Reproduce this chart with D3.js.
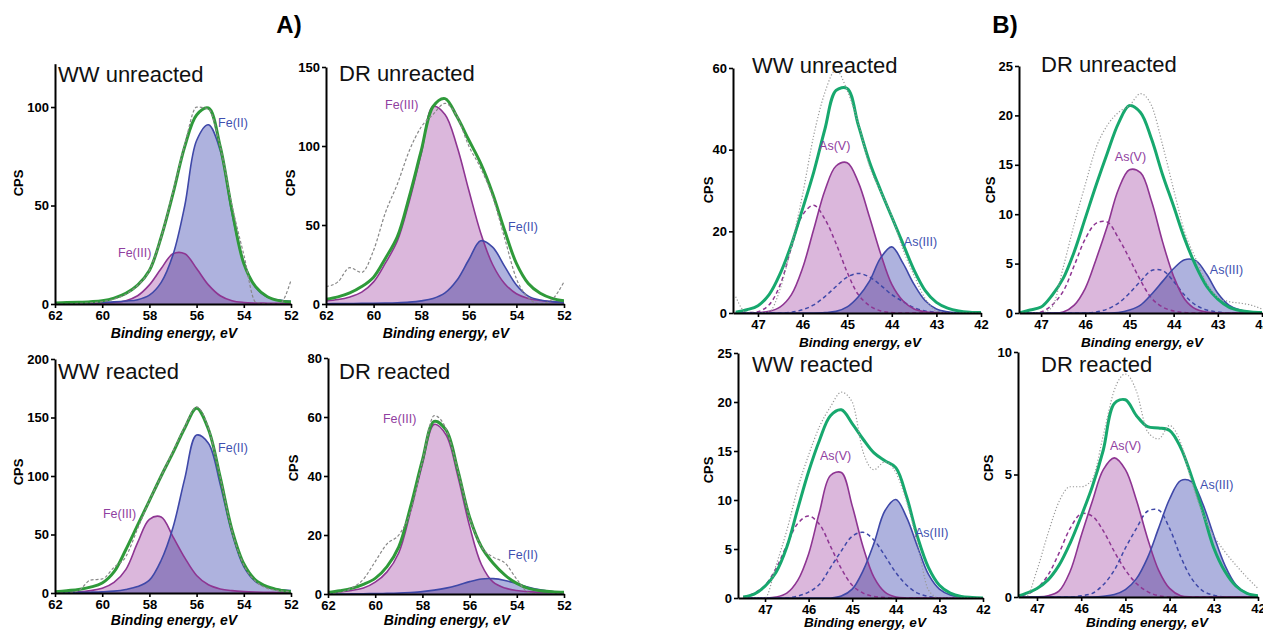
<!DOCTYPE html>
<html>
<head>
<meta charset="utf-8">
<script src="https://cdn.jsdelivr.net/npm/d3@7"></script>
<style>
  body { margin: 0; background: #fff; }
  svg { font-family: "Liberation Sans", Arial, sans-serif; }
</style>
</head>
<body>
<svg id="fig" width="1263" height="633"></svg>
<script>
// binding energy grids (eV) the curves were read on
const feGrid = [62, 61.5, 61, 60.5, 60, 59.5, 59, 58.5, 58, 57.5, 57, 56.5, 56, 55.5, 55, 54.5, 54, 53.5, 53, 52.5, 52];
const asGrid = [47.5, 47.25, 47, 46.75, 46.5, 46.25, 46, 45.75, 45.5, 45.25, 45, 44.75, 44.5, 44.25, 44, 43.75, 43.5, 43.25, 43, 42.75, 42.5, 42.25, 42];

const feTicks = [62, 60, 58, 56, 54, 52];
const asTicks = [47, 46, 45, 44, 43, 42];

// A) Fe 3p, WW unreacted
const wwUnFe2   = [0.4, 0.5, 0.6, 0.7, 0.9, 1.1, 1.5, 2.2, 4.5, 11, 25, 50, 83, 91, 78, 46, 21, 8.5, 3.5, 2, 1.4];
const wwUnFe3   = [0.2, 0.2, 0.25, 0.3, 0.5, 0.8, 1.7, 4.2, 9.7, 18, 25.5, 25.5, 18, 9.7, 4.2, 1.7, 0.8, 0.5, 0.4, 0.3, 0.25];
const wwUnFeFit = [0.5, 0.7, 0.9, 1.2, 1.7, 3, 5.4, 9.6, 17, 34, 56, 80, 96, 99.5, 80, 47.7, 20.6, 8.8, 3.7, 1.7, 1];
const wwUnFeRaw = [0, 0, 0.3, 0.6, 1.2, 2.5, 5, 9.5, 17, 34, 57, 81, 100, 99, 80, 50, 25, 1, 0, 0, 12];

// DR unreacted
const drUnFe2   = [0.2, 0.3, 0.3, 0.4, 0.5, 0.6, 0.8, 1.2, 2, 3.5, 7, 15, 28, 40, 36, 24, 12, 5, 2.5, 1.5, 1];
const drUnFe3   = [2, 2.8, 4.5, 7.5, 14, 26, 40, 65, 95, 125, 120, 100, 72, 45, 25, 13, 6.5, 3.5, 2.2, 1.5, 1];
const drUnFeFit = [3, 4.5, 7, 11, 17, 29, 42.6, 68, 97, 125, 130, 118.6, 103.8, 89, 70, 46.8, 25.7, 13, 6.8, 3.6, 2];
const drUnFeRaw = [11, 14, 23, 20, 34, 58, 76, 97, 112, 120, 127, 119, 100, 86, 68, 42, 16, 4, 0, 3, 14];

// WW reacted
const wwReFe2   = [0.3, 0.4, 0.5, 0.7, 1, 1.6, 3, 5.5, 11, 28, 56, 98, 135, 128, 93, 51, 22.5, 9.7, 5, 3, 2];
const wwReFe3   = [0.5, 0.7, 1, 2, 4, 9, 20, 43, 63, 65, 48, 30, 15, 7, 3.5, 2, 1.2, 0.8, 0.6, 0.4, 0.3];
const wwReFeFit = [1, 2, 3, 5, 8.5, 18, 37, 58, 79, 100, 120, 141, 158, 140, 99, 54, 25, 11, 5.4, 2.6, 1.1];
const wwReFeRaw = [0, 0, 2, 11, 12, 22, 31, 55, 79, 100, 121, 142, 159, 141, 99, 53, 24, 10, 4, 2, 1];

// DR reacted
const drReFe2   = [0, 0, 0.05, 0.1, 0.15, 0.2, 0.3, 0.5, 0.8, 1.3, 2, 3, 4.2, 5.1, 5.2, 4.6, 3.5, 2.3, 1.4, 0.8, 0.5];
const drReFe3   = [0.4, 0.7, 1.2, 2, 4, 7.5, 14, 28, 44, 57.5, 54, 40, 23, 10, 4, 2, 1.2, 0.8, 0.5, 0.4, 0.3];
const drReFeFit = [0.5, 1.1, 1.9, 3.3, 5.3, 9.3, 16, 29.6, 45.4, 58.5, 55.6, 42, 26, 16, 10.4, 6.4, 3.6, 1.9, 1.1, 0.8, 0.6];
const drReFeRaw = [0, 0.5, 2, 5, 11, 17, 20, 28, 45, 60.5, 56, 42, 26, 16, 12.5, 10.5, 5, 0.5, 0, 0, 0];

// B) As 3d, WW unreacted
const wwUnAsV    = [0, 0, 0.1, 0.4, 1.5, 4.5, 11, 20.5, 30, 36, 36.8, 32, 23.5, 14.5, 7, 3, 1, 0.3, 0.1, 0, 0, 0, 0];
const wwUnAsVd   = [0, 0.1, 0.3, 2, 7, 16, 24, 26.4, 23, 17, 10, 4.5, 1.8, 0.5, 0.1, 0, 0, 0, 0, 0, 0, 0, 0];
const wwUnAsIII  = [0, 0, 0, 0, 0, 0, 0, 0, 0.1, 0.4, 1.5, 4, 7.8, 13.5, 16.2, 12.2, 7, 3, 1, 0.3, 0.1, 0, 0];
const wwUnAsIIId = [0, 0, 0, 0, 0, 0.2, 0.8, 2, 4, 6.5, 8.8, 9.7, 8.8, 6.8, 4.5, 2.8, 1.3, 0.5, 0.2, 0, 0, 0, 0];
const wwUnAsFit  = [0.2, 0.8, 1.8, 4.5, 9.7, 16.8, 25.5, 34.5, 45, 54.5, 55, 46, 37, 30, 23.5, 17, 10.5, 5.5, 2.6, 1.2, 0.5, 0.2, 0.1];
const wwUnAsRaw  = [4, 0, 0, 0.3, 6, 16.5, 29, 43.5, 54, 59.5, 54.5, 46.5, 36, 29.8, 23.7, 15.6, 9.2, 3.5, 0.5, 0, 0, 0, 0];

// DR unreacted
const drUnAsV    = [0, 0, 0, 0, 0.1, 0.8, 2.5, 5.5, 8.8, 12.5, 14.5, 14.2, 11.3, 7.2, 3.7, 1.4, 0.4, 0.1, 0, 0, 0, 0, 0];
const drUnAsVd   = [0, 0, 0.1, 0.8, 2.2, 4.8, 7.5, 9.1, 9.2, 7.6, 5.5, 3.3, 1.5, 0.6, 0.2, 0.05, 0, 0, 0, 0, 0, 0, 0];
const drUnAsIII  = [0, 0, 0, 0, 0, 0, 0, 0, 0, 0.05, 0.3, 0.8, 1.9, 3.2, 4.5, 5.4, 5.3, 3.9, 2, 0.8, 0.3, 0.1, 0];
const drUnAsIIId = [0, 0, 0, 0, 0, 0, 0, 0.1, 0.4, 1, 2, 3.2, 4.3, 4.3, 3.2, 1.8, 0.8, 0.3, 0.1, 0, 0, 0, 0];
const drUnAsFit  = [0, 0.3, 0.6, 1.8, 3.5, 6.2, 9.6, 13, 16.2, 19.2, 21, 20.3, 17.6, 14, 10.8, 7.5, 4.8, 2.7, 1.4, 0.6, 0.25, 0.1, 0.05];
const drUnAsRaw  = [0, 0, 0, 0.6, 4.6, 9, 13, 16.8, 19, 20.3, 21, 22.2, 21, 17, 12.5, 8.2, 5.5, 3, 1.6, 1.15, 1, 0.8, 0.4];

// WW reacted
const wwReAsV    = [0, 0, 0, 0.1, 0.5, 1.8, 4.5, 8.8, 12.5, 12.8, 9.4, 5.2, 2.1, 0.6, 0.1, 0, 0, 0, 0, 0, 0, 0, 0];
const wwReAsVd   = [0.1, 0.5, 1.3, 3, 5.4, 7.6, 8.37, 7.5, 5.3, 3, 1.3, 0.5, 0.15, 0.05, 0, 0, 0, 0, 0, 0, 0, 0, 0];
const wwReAsIII  = [0, 0, 0, 0, 0, 0, 0, 0, 0, 0.2, 0.9, 2.8, 5.6, 8.9, 10.05, 8.2, 5.2, 2.4, 0.9, 0.3, 0.1, 0, 0];
const wwReAsIIId = [0, 0, 0, 0, 0, 0.2, 0.6, 1.4, 3.1, 4.8, 6.3, 6.7, 5.9, 4.3, 2.6, 1.3, 0.5, 0.15, 0, 0, 0, 0, 0];
const wwReAsFit  = [0.1, 0.4, 1.2, 2.6, 5.2, 9.1, 12.9, 16.1, 18.6, 19.2, 17.8, 16.2, 14.8, 14, 13.3, 10.3, 6.2, 3.1, 1.3, 0.5, 0.15, 0.05, 0];
const wwReAsRaw  = [0, 0, 0, 3.3, 6.9, 11.2, 14.6, 17.5, 19.5, 21, 20, 14.9, 13.1, 13.9, 12.8, 9.8, 5.5, 0.8, 0, 0, 0, 0, 0];

// DR reacted
const drReAsV    = [0, 0, 0, 0.05, 0.25, 1.05, 2.5, 3.9, 5.2, 5.68, 5.2, 3.95, 2.4, 1.1, 0.35, 0.05, 0, 0, 0, 0, 0, 0, 0];
const drReAsVd   = [0.03, 0.1, 0.35, 0.9, 1.8, 2.8, 3.4, 3.3, 2.7, 1.85, 1.1, 0.55, 0.22, 0.05, 0, 0, 0, 0, 0, 0, 0, 0, 0];
const drReAsIII  = [0, 0, 0, 0, 0, 0, 0, 0, 0.03, 0.1, 0.3, 0.75, 1.6, 2.8, 4.0, 4.75, 4.7, 3.8, 2.5, 1.3, 0.5, 0.15, 0.05];
const drReAsIIId = [0, 0, 0, 0, 0, 0, 0.05, 0.15, 0.5, 1.1, 2.0, 2.8, 3.5, 3.55, 2.8, 1.65, 0.75, 0.25, 0.07, 0, 0, 0, 0];
const drReAsFit  = [0, 0.15, 0.35, 0.7, 1.3, 2.2, 3.3, 4.5, 6.0, 7.9, 8.05, 7.4, 6.95, 6.9, 6.8, 6.1, 4.9, 3.5, 2.0, 1.05, 0.45, 0.15, 0.05];
const drReAsRaw  = [0, 0, 1.1, 2.6, 3.9, 4.5, 4.5, 4.8, 6.6, 8.45, 9.1, 8.4, 6.75, 6.45, 7.0, 6.3, 4.7, 3.4, 2.5, 1.85, 1.3, 0.8, 0.35];

const purpleLine = "#8e3592", purpleFill = "#dbb7dc", purpleText = "#9040a0";
const blueLine = "#3f48a8", blueFill = "#aeb2de", blueText = "#4050b0";
const greenFe = "#2f9a3a", greenAs = "#17a86e";

// layout of the eight panels
const panels = [
  { kind: "Fe", grid: feGrid, xDom: [62, 52], xRange: [55, 291], yDom: [0, 122], yRange: [304, 63.7], xTicks: feTicks, yTicks: [0, 50, 100],
    title: "WW unreacted", titleAt: [58, 82], cpsAt: [18, 183], xLabAt: [174, 338],
    ox: wwUnFe3, red: wwUnFe2, fit: wwUnFeFit, raw: wwUnFeRaw, oxLab: ["Fe(III)", 59.33, 24.1], redLab: ["Fe(II)", 55.09, 90.1] },
  { kind: "Fe", grid: feGrid, xDom: [62, 52], xRange: [326, 564], yDom: [0, 150], yRange: [304, 67], xTicks: feTicks, yTicks: [0, 50, 100, 150],
    title: "DR unreacted", titleAt: [339, 81], cpsAt: [290, 183], xLabAt: [446, 338],
    ox: drUnFe3, red: drUnFe2, fit: drUnFeFit, raw: drUnFeRaw, oxLab: ["Fe(III)", 59.52, 123.7], redLab: ["Fe(II)", 54.35, 45.9] },
  { kind: "Fe", grid: feGrid, xDom: [62, 52], xRange: [55, 291], yDom: [0, 200], yRange: [593, 359], xTicks: feTicks, yTicks: [0, 50, 100, 150, 200],
    title: "WW reacted", titleAt: [58, 379], cpsAt: [18, 472], xLabAt: [174, 625],
    ox: wwReFe3, red: wwReFe2, fit: wwReFeFit, raw: wwReFeRaw, oxLab: ["Fe(III)", 59.97, 64.5], redLab: ["Fe(II)", 55.09, 120.1] },
  { kind: "Fe", grid: feGrid, xDom: [62, 52], xRange: [328, 564], yDom: [0, 80], yRange: [594, 358], xTicks: feTicks, yTicks: [0, 20, 40, 60, 80],
    title: "DR reacted", titleAt: [339, 379], cpsAt: [293, 468], xLabAt: [447, 625],
    ox: drReFe3, red: drReFe2, fit: drReFeFit, raw: drReFeRaw, oxLab: ["Fe(III)", 59.67, 57.8], redLab: ["Fe(II)", 54.37, 11.7] },
  { kind: "As", grid: asGrid, xDom: [47.56, 42], xRange: [733, 981], yDom: [0, 60], yRange: [313, 68], xTicks: asTicks, yTicks: [0, 20, 40, 60],
    title: "WW unreacted", titleAt: [752, 73], cpsAt: [708, 190], xLabAt: [860, 347],
    ox: wwUnAsV, oxD: wwUnAsVd, red: wwUnAsIII, redD: wwUnAsIIId, fit: wwUnAsFit, raw: wwUnAsRaw, oxLab: ["As(V)", 45.63, 39.8], redLab: ["As(III)", 43.73, 16.3] },
  { kind: "As", grid: asGrid, xDom: [47.5, 42], xRange: [1019, 1262], yDom: [0, 25], yRange: [313, 66], xTicks: asTicks, yTicks: [0, 5, 10, 15, 20, 25],
    title: "DR unreacted", titleAt: [1041, 72], cpsAt: [990, 190], xLabAt: [1142, 347],
    ox: drUnAsV, oxD: drUnAsVd, red: drUnAsIII, redD: drUnAsIIId, fit: drUnAsFit, raw: drUnAsRaw, oxLab: ["As(V)", 45.33, 15.4], redLab: ["As(III)", 43.18, 3.9] },
  { kind: "As", grid: asGrid, xDom: [47.62, 42], xRange: [738, 983], yDom: [0, 25], yRange: [598, 353], xTicks: asTicks, yTicks: [0, 5, 10, 15, 20, 25],
    title: "WW reacted", titleAt: [752, 372], cpsAt: [708, 470], xLabAt: [865, 627],
    ox: wwReAsV, oxD: wwReAsVd, red: wwReAsIII, redD: wwReAsIIId, fit: wwReAsFit, raw: wwReAsRaw, oxLab: ["As(V)", 45.74, 14.1], redLab: ["As(III)", 43.56, 6.2] },
  { kind: "As", grid: asGrid, xDom: [47.43, 42], xRange: [1018, 1258], yDom: [0, 10], yRange: [597, 352], xTicks: asTicks, yTicks: [0, 5, 10],
    title: "DR reacted", titleAt: [1041, 372], cpsAt: [988, 468], xLabAt: [1147, 627],
    ox: drReAsV, oxD: drReAsVd, red: drReAsIII, redD: drReAsIIId, fit: drReAsFit, raw: drReAsRaw, oxLab: ["As(V)", 45.35, 6.0], redLab: ["As(III)", 43.31, 4.4] }
];

const svg = d3.select("#fig");

svg.append("text").attr("x", 289).attr("y", 33).attr("text-anchor", "middle")
  .attr("font-size", 24).attr("font-weight", "bold").text("A)");
svg.append("text").attr("x", 1005).attr("y", 33).attr("text-anchor", "middle")
  .attr("font-size", 24).attr("font-weight", "bold").text("B)");

panels.forEach((p, k) => {
  const x = d3.scaleLinear().domain(p.xDom).range(p.xRange);
  const y = d3.scaleLinear().domain(p.yDom).range(p.yRange);
  const isFe = p.kind === "Fe";
  const g = svg.append("g");

  const cid = "clip" + k;
  g.append("clipPath").attr("id", cid).append("rect")
    .attr("x", p.xRange[0]).attr("y", p.yRange[1])
    .attr("width", p.xRange[1] - p.xRange[0])
    .attr("height", p.yRange[0] - p.yRange[1]);
  const plot = g.append("g").attr("clip-path", `url(#${cid})`);

  const pts = vals => vals.map((v, i) => [p.grid[i], v]);
  const area = d3.area().x(d => x(d[0])).y0(y(0)).y1(d => y(d[1])).curve(d3.curveCatmullRom);
  const line = d3.line().x(d => x(d[0])).y(d => y(d[1])).curve(d3.curveCatmullRom);
  const rawLine = d3.line().x(d => x(d[0])).y(d => y(d[1])).curve(d3.curveMonotoneX);

  plot.append("path").attr("d", area(pts(p.ox))).attr("fill", purpleFill);
  plot.append("path").attr("d", area(pts(p.red))).attr("fill", blueFill)
    .style("mix-blend-mode", "multiply");

  if (p.oxD) {
    plot.append("path").attr("d", line(pts(p.oxD))).attr("fill", "none")
      .attr("stroke", purpleLine).attr("stroke-width", 1.5).attr("stroke-dasharray", "4,3");
    plot.append("path").attr("d", line(pts(p.redD))).attr("fill", "none")
      .attr("stroke", blueLine).attr("stroke-width", 1.5).attr("stroke-dasharray", "4,3");
  }

  plot.append("path").attr("d", line(pts(p.ox))).attr("fill", "none")
    .attr("stroke", purpleLine).attr("stroke-width", 1.6);
  plot.append("path").attr("d", line(pts(p.red))).attr("fill", "none")
    .attr("stroke", blueLine).attr("stroke-width", 1.6);

  plot.append("path").attr("d", line(pts(p.fit))).attr("fill", "none")
    .attr("stroke", isFe ? greenFe : greenAs).attr("stroke-width", 3);

  plot.append("path").attr("d", rawLine(pts(p.raw))).attr("fill", "none")
    .attr("stroke", isFe ? "#888" : "#999").attr("stroke-width", 1.2)
    .attr("stroke-dasharray", isFe ? "3,2" : "1.2,2");

  // axes
  const gx = g.append("g").attr("transform", `translate(0,${p.yRange[0]})`)
    .call(d3.axisBottom(x).tickValues(p.xTicks).tickSize(4).tickSizeOuter(0).tickPadding(3).tickFormat(d3.format("d")));
  const gy = g.append("g").attr("transform", `translate(${p.xRange[0]},0)`)
    .call(d3.axisLeft(y).tickValues(p.yTicks).tickSize(4).tickSizeOuter(0).tickPadding(2).tickFormat(d3.format("d")));
  [gx, gy].forEach(a => {
    a.attr("font-family", "Liberation Sans, Arial, sans-serif").attr("font-size", 13).attr("font-weight", "bold");
    a.select(".domain").attr("stroke", "#000").attr("stroke-width", 2);
    a.selectAll(".tick line").attr("stroke", "#000").attr("stroke-width", 1.6);
    a.selectAll(".tick text").attr("fill", "#000");
  });

  g.append("text").attr("x", p.titleAt[0]).attr("y", p.titleAt[1])
    .attr("font-size", 22).attr("fill", "#111").text(p.title);

  g.append("text").attr("transform", `translate(${p.cpsAt[0]},${p.cpsAt[1]}) rotate(-90)`)
    .attr("text-anchor", "middle").attr("dy", "0.35em")
    .attr("font-size", 13).attr("font-weight", "bold").text("CPS");

  g.append("text").attr("x", p.xLabAt[0]).attr("y", p.xLabAt[1]).attr("text-anchor", "middle")
    .attr("font-size", isFe ? 14 : 13.5).attr("font-weight", "bold").attr("font-style", "italic")
    .text("Binding energy, eV");

  g.append("text").attr("x", x(p.oxLab[1])).attr("y", y(p.oxLab[2]))
    .attr("font-size", 12.5).attr("fill", purpleText).text(p.oxLab[0]);
  g.append("text").attr("x", x(p.redLab[1])).attr("y", y(p.redLab[2]))
    .attr("font-size", 12.5).attr("fill", blueText).text(p.redLab[0]);
});
</script>
</body>
</html>
